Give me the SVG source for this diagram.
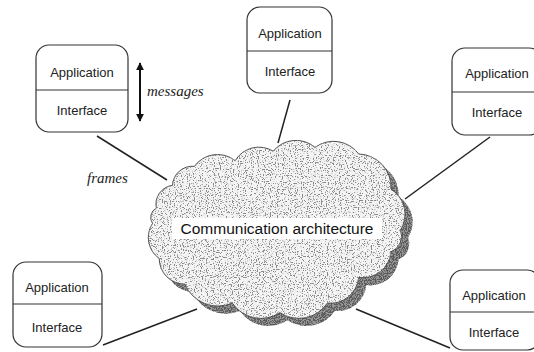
<svg xmlns="http://www.w3.org/2000/svg" width="534" height="352" viewBox="0 0 534 352">
<style>
.box{fill:#fff;stroke:#333;stroke-width:1.2}
.div{stroke:#333;stroke-width:1.2}
.lbl{font-family:"Liberation Sans",Arial,sans-serif;font-size:13px;fill:#222;text-anchor:middle}
.it{font-family:"Liberation Serif","Times New Roman",serif;font-style:italic;font-size:15px;fill:#222}
.con{stroke:#222;stroke-width:1.5;fill:none}
</style>
<defs>
<path id="cloudShape" d="M167,183 A21,21 0 0 1 190,163 A30,30 0 0 1 233,157 A29,29 0 0 1 273,147 A31,31 0 0 1 317,143 A33,33 0 0 1 363,150 A35,35 0 0 1 397,187 A31,31 0 0 1 407,230 A18,18 0 0 1 397,253 A30,30 0 0 1 363,280 A30,30 0 0 1 330,307 A36,36 0 0 1 280,317 A36,36 0 0 1 230,307 A38,38 0 0 1 180,287 A27,27 0 0 1 153,260 A27,27 0 0 1 146,223 A11,11 0 0 1 150,207 A20,20 0 0 1 167,183 Z"/>
<filter id="stip" x="-5%" y="-5%" width="110%" height="110%">
<feTurbulence type="fractalNoise" baseFrequency="0.8" numOctaves="1" seed="4" result="n"/>
<feColorMatrix in="n" type="matrix" values="0 0 0 0 0.25  0 0 0 0 0.25  0 0 0 0 0.25  -10 0 0 0 4.6" result="dots"/>
<feComposite in="dots" in2="SourceAlpha" operator="in" result="d2"/>
<feMerge><feMergeNode in="SourceGraphic"/><feMergeNode in="d2"/></feMerge>
</filter>
<filter id="stipDark" x="-5%" y="-5%" width="110%" height="110%">
<feTurbulence type="fractalNoise" baseFrequency="0.8" numOctaves="1" seed="9" result="n"/>
<feColorMatrix in="n" type="matrix" values="0 0 0 0 0.1  0 0 0 0 0.1  0 0 0 0 0.1  -10 0 0 0 5.6" result="dots"/>
<feComposite in="dots" in2="SourceAlpha" operator="in" result="d2"/>
<feMerge><feMergeNode in="SourceGraphic"/><feMergeNode in="d2"/></feMerge>
</filter>
<marker id="ah" viewBox="0 0 10 10" refX="9" refY="5" markerWidth="8" markerHeight="8" markerUnits="userSpaceOnUse" orient="auto-start-reverse">
<path d="M0,0 L10,5 L0,10 Z" fill="#111"/>
</marker>
</defs>

<g id="connectors">
<line class="con" x1="97" y1="136" x2="167" y2="180"/>
<line class="con" x1="290" y1="100" x2="278" y2="143"/>
<line class="con" x1="490" y1="137" x2="405" y2="199"/>
<line class="con" x1="103" y1="345" x2="197" y2="309"/>
<line class="con" x1="356" y1="309" x2="450" y2="348"/>
</g>

<g id="cloud">
<g transform="translate(277,230) scale(0.95) translate(-277,-230)">
<use href="#cloudShape" transform="translate(8,8)" fill="#999" filter="url(#stipDark)"/>
<use href="#cloudShape" fill="#f4f4f4" stroke="#444" stroke-width="1" filter="url(#stip)"/>
</g>
<rect x="172" y="218" width="210" height="21" fill="#fff"/>
<text x="277" y="234" font-family="Liberation Sans, Arial, sans-serif" font-size="15.5" fill="#111" text-anchor="middle">Communication architecture</text>
</g>

<g id="node1">
<rect class="box" x="36" y="45" width="92" height="87" rx="13"/>
<line class="div" x1="36" y1="90" x2="128" y2="90"/>
<text class="lbl" x="82" y="77">Application</text>
<text class="lbl" x="82" y="115">Interface</text>
</g>

<g id="node2">
<rect class="box" x="247" y="7" width="85" height="86" rx="13"/>
<line class="div" x1="247" y1="51" x2="332" y2="51"/>
<text class="lbl" x="290" y="38">Application</text>
<text class="lbl" x="290" y="76">Interface</text>
</g>

<g id="node3">
<rect class="box" x="452" y="48" width="90" height="87" rx="13"/>
<line class="div" x1="452" y1="92" x2="542" y2="92"/>
<text class="lbl" x="497" y="78">Application</text>
<text class="lbl" x="497" y="117">Interface</text>
</g>

<g id="node4">
<rect class="box" x="13" y="262" width="89" height="85" rx="13"/>
<line class="div" x1="13" y1="304" x2="102" y2="304"/>
<text class="lbl" x="57" y="292">Application</text>
<text class="lbl" x="57" y="332">Interface</text>
</g>

<g id="node5">
<rect class="box" x="450" y="270" width="90" height="80" rx="13"/>
<line class="div" x1="450" y1="312" x2="540" y2="312"/>
<text class="lbl" x="494" y="300">Application</text>
<text class="lbl" x="494" y="337">Interface</text>
</g>

<g id="messages">
<line x1="140" y1="63" x2="140" y2="121" stroke="#111" stroke-width="2" marker-start="url(#ah)" marker-end="url(#ah)"/>
<text class="it" x="147" y="96">messages</text>
</g>
<text class="it" x="87" y="183" font-size="16">frames</text>
</svg>
